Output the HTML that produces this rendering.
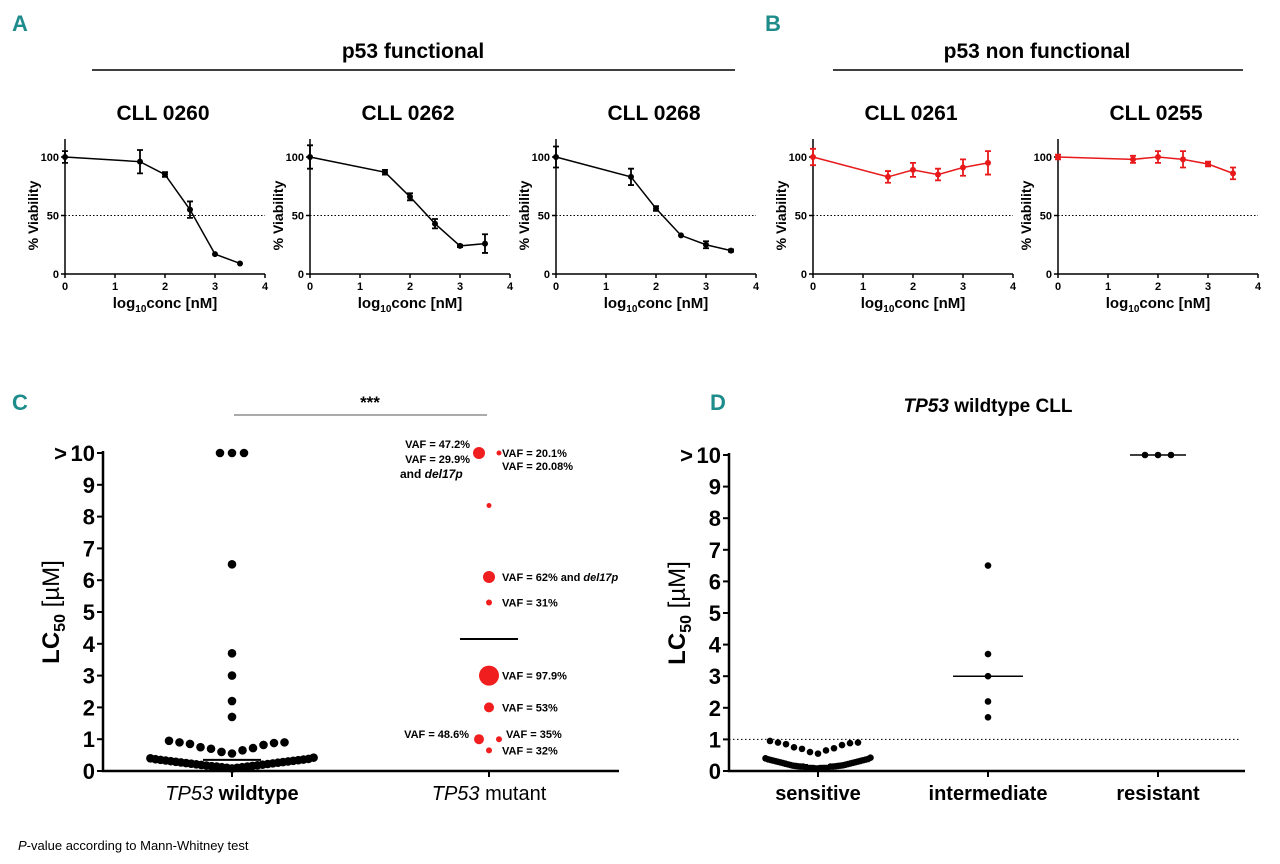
<!DOCTYPE html>
<html><head><meta charset="utf-8"><style>
body{margin:0;background:#fff}
svg{display:block}
text{font-family:"Liberation Sans",Arial,sans-serif}
.b{font-weight:bold}
</style></head><body>
<svg id="fig" width="1280" height="864" viewBox="0 0 1280 864" xmlns="http://www.w3.org/2000/svg">
<text x="12" y="31" font-size="22" class="b" fill="#1f8c8c">A</text>
<text x="765" y="31" font-size="22" class="b" fill="#1f8c8c">B</text>
<text x="12" y="410" font-size="22" class="b" fill="#1f8c8c">C</text>
<text x="710" y="410" font-size="22" class="b" fill="#1f8c8c">D</text>
<text x="413" y="58" font-size="21" class="b" text-anchor="middle">p53 functional</text>
<line x1="92" y1="70" x2="735" y2="70" stroke="#000" stroke-width="1.5"/>
<text x="1037" y="58" font-size="21" class="b" text-anchor="middle">p53 non functional</text>
<line x1="833" y1="70" x2="1243" y2="70" stroke="#000" stroke-width="1.5"/>
<g id="gA"></g><g id="gC"></g><g id="gD"></g>
<text x="18" y="850" font-size="13"><tspan font-style="italic">P</tspan>-value according to Mann-Whitney test</text>
</svg>
<script>
// ---- Panel A/B data ----
const concX = [0, 1.5, 2, 2.5, 3, 3.5];
const names = ["CLL 0260", "CLL 0262", "CLL 0268", "CLL 0261", "CLL 0255"];
const via0260 = [100, 96, 85, 55, 17, 9];
const err0260 = [5, 10, 2, 7, 0, 0];
const via0262 = [100, 87, 66, 43, 24, 26];
const err0262 = [10, 2, 3, 4, 1, 8];
const via0268 = [100, 83, 56, 33, 25, 20];
const err0268 = [9, 7, 2, 0, 3, 1];
const via0261 = [100, 83, 89, 85, 91, 95];
const err0261 = [7, 5, 6, 5, 7, 10];
const via0255 = [100, 98, 100, 98, 94, 86];
const err0255 = [2, 3, 5, 7, 2, 5];
const xTicksA = [0, 1, 2, 3, 4];
const yTicksA = [0, 50, 100];
// ---- Panel C data ----
const wtHigh = [10, 10, 10, 6.5, 3.7, 3.0, 2.2, 1.7];
const wtMid = [0.95, 0.9, 0.9, 0.88, 0.85, 0.82, 0.75, 0.72, 0.7, 0.65, 0.6, 0.55];
const wtLow = [0.08,0.1,0.1,0.12,0.12,0.14,0.14,0.15,0.16,0.17,0.18,0.19,0.2,0.21,0.22,0.23,0.24,0.25,0.26,0.27,0.28,0.29,0.3,0.31,0.32,0.33,0.34,0.35,0.36,0.37,0.38,0.4,0.42];
const wtMedian = 0.35;
const mutVals = [10, 10, 8.35, 6.1, 5.3, 3.0, 2.0, 1.0, 1.0, 0.65];
const mutSize = [6, 2.5, 2.5, 6, 3, 10, 5, 5, 3, 3];
const mutSide = [-1, 1, 0, 0, 0, 0, 0, -1, 1, 0];
const mutLabels = ["", "VAF = 20.1%|VAF = 20.08%", "", "VAF = 62% and |del17p", "VAF = 31%", "VAF = 97.9%", "VAF = 53%", "VAF = 48.6%", "VAF = 35%", "VAF = 32%"];
const mutMean = 4.15;
const yTicksC = [0,1,2,3,4,5,6,7,8,9,10];
// ---- Panel D data ----
const dCats = ["sensitive", "intermediate", "resistant"];
const dInter = [6.5, 3.7, 3.0, 2.2, 1.7];
const dRes = [10, 10, 10];
const dMedians = [0.22, 3.0, 10];

const NS = "http://www.w3.org/2000/svg";
function mk(parent, tag, attrs, txt) {
  const e = document.createElementNS(NS, tag);
  for (const k in attrs) e.setAttribute(k, attrs[k]);
  if (txt !== undefined) e.textContent = txt;
  parent.appendChild(e);
  return e;
}

// ---- Panel A/B ----
const gA = document.getElementById('gA');
const origins = [65, 310, 556, 813, 1058];
const vias = [via0260, via0262, via0268, via0261, via0255];
const errs = [err0260, err0262, err0268, err0261, err0255];
const colors = ["#000", "#000", "#000", "#e8191b", "#e8191b"];
const y0A = 274, pxPerPct = 1.17, pxPerUnit = 50;
origins.forEach((ox, p) => {
  const sx = v => ox + v * pxPerUnit;
  const sy = v => y0A - v * pxPerPct;
  const g = mk(gA, 'g', {});
  
  
  const t = mk(g, 'text', {x: ox + 98, y: 120, 'font-size': 21, 'class': 'b', 'text-anchor': 'middle'}, names[p]);
  
  
  const ax = mk(g, 'path', {d: `M${ox} 139 V${y0A} H${ox + 200}`, stroke: '#000', 'stroke-width': 1.5, fill: 'none'});
  
  
  xTicksA.forEach(v => {
    mk(g, 'line', {x1: sx(v), x2: sx(v), y1: y0A, y2: y0A + 4, stroke: '#000', 'stroke-width': 1.5});
    const tl = mk(g, 'text', {x: sx(v), y: y0A + 16, 'font-size': 11, 'class': 'b', 'text-anchor': 'middle'}, v);
    
    
  });
  yTicksA.forEach(v => {
    mk(g, 'line', {x1: ox - 4, x2: ox, y1: sy(v), y2: sy(v), stroke: '#000', 'stroke-width': 1.5});
    const tl = mk(g, 'text', {x: ox - 6, y: sy(v) + 4, 'font-size': 11, 'class': 'b', 'text-anchor': 'end'}, v);
    
    
  });
  const dl = mk(g, 'line', {x1: ox, x2: ox + 200, y1: sy(50), y2: sy(50), stroke: '#000', 'stroke-width': 1, 'stroke-dasharray': '1.5 2'});
  
  
  const yl = mk(g, 'text', {x: 0, y: 0, 'font-size': 14, 'class': 'b', 'text-anchor': 'middle', transform: `translate(${ox - 27},${sy(50)}) rotate(-90)`}, '% Viability');
  
  
  const xl = mk(g, 'text', {x: ox + 100, y: y0A + 34, 'font-size': 15, 'class': 'b', 'text-anchor': 'middle'});
  
  
  mk(xl, 'tspan', {}, 'log');
  mk(xl, 'tspan', {dy: 4, 'font-size': 10}, '10');
  mk(xl, 'tspan', {dy: -4}, 'conc [nM]');
  const pts = concX.map((c, i) => `${sx(c)},${sy(vias[p][i])}`).join(' ');
  const ln = mk(g, 'polyline', {points: pts, fill: 'none', stroke: colors[p], 'stroke-width': 1.5});
  
  
  concX.forEach((c, i) => {
    const v = vias[p][i], e = errs[p][i];
    if (e > 0) {
      const eb = mk(g, 'path', {d: `M${sx(c)} ${sy(v + e)} V${sy(v - e)} M${sx(c) - 3} ${sy(v + e)} H${sx(c) + 3} M${sx(c) - 3} ${sy(v - e)} H${sx(c) + 3}`, stroke: colors[p], 'stroke-width': 1.8, fill: 'none'});
      
      
    }
    const pt = mk(g, 'circle', {cx: sx(c), cy: sy(v), r: 3, fill: colors[p]});
    
    
  });
});

function centerOut(n, step) {
  const arr = [];
  for (let i = 0; i < n; i++) {
    const k = Math.ceil(i / 2);
    arr.push((i % 2 ? -1 : 1) * k * step);
  }
  return arr;
}
function drawDots(g, vals, cx, sy, step, r, fill, name) {
  const sorted = vals.slice().sort((a, b) => a - b);
  const offs = centerOut(sorted.length, step);
  sorted.forEach((v, i) => {
    const c = mk(g, 'circle', {cx: cx + offs[i], cy: sy(v), r: r, fill: fill});
    
    
  });
}
function lcAxis(g, ox, xEnd, y0, y10, tickFs) {
  const sy = v => y0 - v * (y0 - y10) / 10;
  const ax = mk(g, 'path', {d: `M${ox} ${y10 - 2} V${y0} H${xEnd}`, stroke: '#000', 'stroke-width': 2.5, fill: 'none'});
  
  
  yTicksC.forEach(v => {
    mk(g, 'line', {x1: ox - 6, x2: ox, y1: sy(v), y2: sy(v), stroke: '#000', 'stroke-width': 2});
    const t = mk(g, 'text', {x: ox - 8, y: sy(v) + 8, 'font-size': tickFs, 'class': 'b', 'text-anchor': 'end'}, v);
    
    
  });
  const gt = mk(g, 'text', {x: ox - 36, y: sy(10) + 8, 'font-size': tickFs, 'class': 'b', 'text-anchor': 'end'}, '>');
  
  
  const yl = mk(g, 'text', {x: 0, y: 0, 'font-size': 24, 'class': 'b', 'text-anchor': 'middle', transform: `translate(${ox - 44},${sy(5)}) rotate(-90)`});
  
  
  mk(yl, 'tspan', {}, 'LC');
  mk(yl, 'tspan', {dy: 6, 'font-size': 16}, '50');
  mk(yl, 'tspan', {dy: -6, 'font-weight': 'normal'}, ' [µM]');
  return sy;
}

// ---- Panel C ----
const gC = document.getElementById('gC');
const syC = lcAxis(gC, 103, 619, 771, 453, 22);
const wtX = 232, mutX = 489;
[wtX, mutX].forEach(x => mk(gC, 'line', {x1: x, x2: x, y1: 771, y2: 777, stroke: '#000', 'stroke-width': 2}));
const xl1 = mk(gC, 'text', {x: wtX, y: 800, 'font-size': 20, 'text-anchor': 'middle'});


mk(xl1, 'tspan', {'font-style': 'italic'}, 'TP53');
mk(xl1, 'tspan', {'font-weight': 'bold'}, ' wildtype');
const xl2 = mk(gC, 'text', {x: mutX, y: 800, 'font-size': 20, 'text-anchor': 'middle'});


mk(xl2, 'tspan', {'font-style': 'italic'}, 'TP53');
mk(xl2, 'tspan', {}, ' mutant');
const sig = mk(gC, 'line', {x1: 234, x2: 487, y1: 415, y2: 415, stroke: '#555', 'stroke-width': 1});


const st = mk(gC, 'text', {x: 370, y: 408, 'font-size': 17, 'class': 'b', 'text-anchor': 'middle'}, '***');


const hiG = {};
wtHigh.forEach(v => { hiG[v] = (hiG[v] || []).concat([v]); });
Object.values(hiG).forEach(grp => drawDots(gC, grp, wtX, syC, 12, 4.3, '#000', 'wildtype-point'));
drawDots(gC, wtMid, wtX, syC, 10.5, 4.3, '#000', 'wildtype-point');
drawDots(gC, wtLow, wtX, syC, 5.1, 4.3, '#000', 'wildtype-point');
const wm = mk(gC, 'line', {x1: wtX - 29, x2: wtX + 29, y1: syC(wtMedian), y2: syC(wtMedian), stroke: '#000', 'stroke-width': 2});


mutVals.forEach((v, i) => {
  const cx = mutX + mutSide[i] * 10;
  const c = mk(gC, 'circle', {cx: cx, cy: syC(v), r: mutSize[i], fill: '#f01e1e'});
  
  
  const lab = mutLabels[i];
  if (!lab) return;
  const left = mutSide[i] < 0;
  const t = mk(gC, 'text', {x: left ? cx - 10 : mutX + 13, y: syC(v) + 4, 'font-size': 11, 'class': 'b', 'text-anchor': left ? 'end' : 'start'});
  
  
  const parts = lab.split('|');
  if (lab.indexOf('del17p') >= 0) {
    mk(t, 'tspan', {}, parts[0]);
    mk(t, 'tspan', {'font-style': 'italic'}, parts[1]);
  } else if (parts.length > 1) {
    mk(t, 'tspan', {x: mutX + 13, dy: 0}, parts[0]);
    mk(t, 'tspan', {x: mutX + 13, dy: 13}, parts[1]);
  } else {
    t.textContent = lab;
  }
  if (i === 8) t.setAttribute('x', mutX + 17);
  if (i === 8 || i === 7) t.setAttribute('y', syC(v) - 1);
});
const tl = mk(gC, 'text', {x: 472, y: 448, 'font-size': 11, 'class': 'b', 'text-anchor': 'end'});


mk(tl, 'tspan', {x: 470, dy: 0}, 'VAF = 47.2%');
mk(tl, 'tspan', {x: 470, dy: 15}, 'VAF = 29.9%');
const tl2 = mk(gC, 'text', {x: 400, y: 478, 'font-size': 12, 'class': 'b'});


mk(tl2, 'tspan', {}, 'and ');
mk(tl2, 'tspan', {'font-style': 'italic'}, 'del17p');
const mm = mk(gC, 'line', {x1: mutX - 29, x2: mutX + 29, y1: syC(mutMean), y2: syC(mutMean), stroke: '#000', 'stroke-width': 2});



// ---- Panel D ----
const gD = document.getElementById('gD');
const syD = lcAxis(gD, 729, 1245, 771, 455, 22);
const dX = [818, 988, 1158];
const td = mk(gD, 'text', {x: 988, y: 412, 'font-size': 19, 'class': 'b', 'text-anchor': 'middle'});


mk(td, 'tspan', {'font-style': 'italic'}, 'TP53');
mk(td, 'tspan', {}, ' wildtype CLL');
dX.forEach((x, i) => {
  mk(gD, 'line', {x1: x, x2: x, y1: 771, y2: 777, stroke: '#000', 'stroke-width': 2});
  const t = mk(gD, 'text', {x: x, y: 800, 'font-size': 20, 'class': 'b', 'text-anchor': 'middle'}, dCats[i]);
  
  
});
const dd = mk(gD, 'line', {x1: 729, x2: 1240, y1: syD(1), y2: syD(1), stroke: '#000', 'stroke-width': 1, 'stroke-dasharray': '1.5 2.5'});


drawDots(gD, wtMid, dX[0], syD, 8, 3.3, '#000', 'sensitive-point');
drawDots(gD, wtLow.concat(wtLow.slice(0, 10)), dX[0], syD, 2.5, 3.3, '#000', 'sensitive-point');
drawDots(gD, dInter, dX[1], syD, 0, 3.3, '#000', 'intermediate-point');
drawDots(gD, dRes, dX[2], syD, 13, 3.3, '#000', 'resistant-point');
const mw = [10, 35, 28];
dMedians.forEach((m, i) => {
  const l = mk(gD, 'line', {x1: dX[i] - mw[i], x2: dX[i] + mw[i], y1: syD(m), y2: syD(m), stroke: i === 0 ? '#fff' : '#000', 'stroke-width': 1.5});
  
  
});
</script>
</body></html>
